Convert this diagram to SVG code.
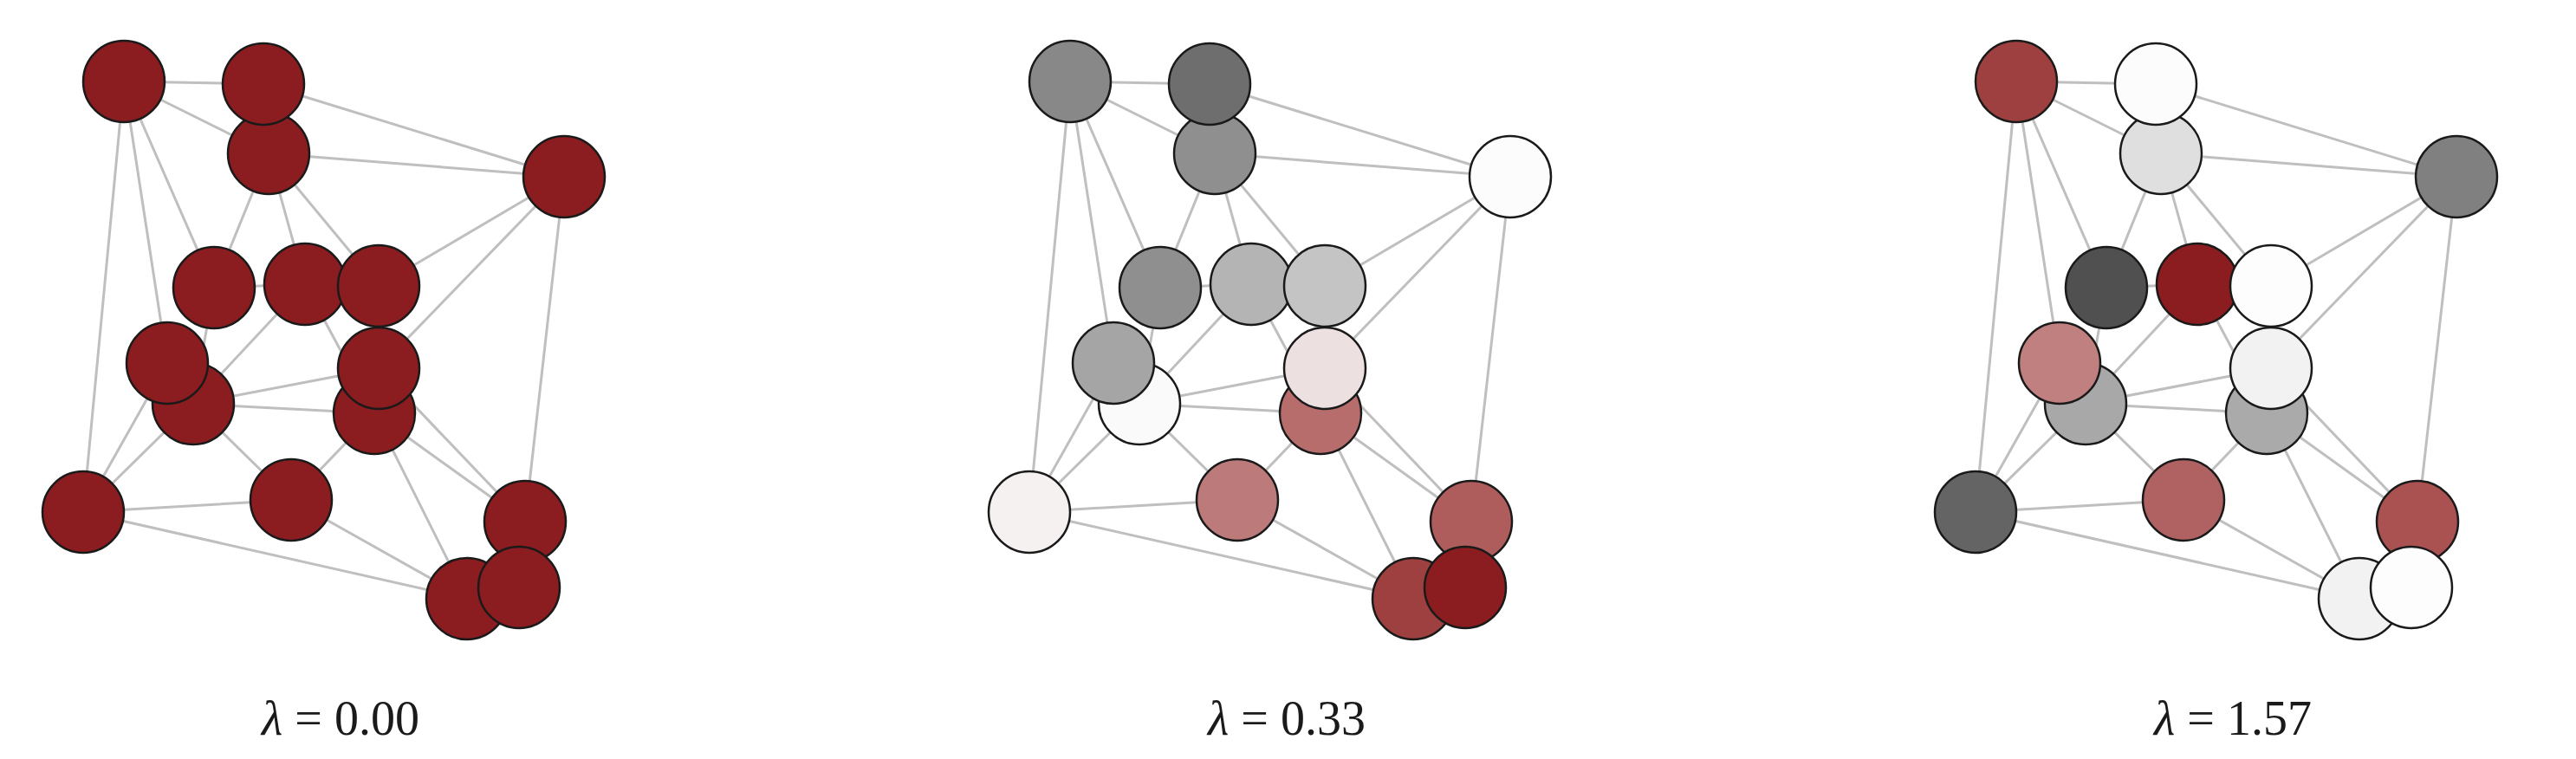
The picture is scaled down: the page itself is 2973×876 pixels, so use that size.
<svg xmlns="http://www.w3.org/2000/svg" xmlns:xlink="http://www.w3.org/1999/xlink" width="2973" height="876" viewBox="0 0 2973 876">
<style>
.e{stroke:#bfbfbf;stroke-width:3;fill:none}
.n{stroke:#1a1a1a;stroke-width:2.5}
.t{font-family:"Liberation Serif",serif;font-size:56px;fill:#1a1a1a;text-anchor:middle}
</style>
<defs>
<g id="edges" class="e">
<path d="M143,94L304,97M143,94L310,177M304,97L651,204M310,177L651,204M143,94L96,591M143,94L193,419M143,94L247,332M310,177L247,332M310,177L352,328M310,177L437,330M651,204L437,330M651,204L437,425M651,204L606,602M247,332L352,328M247,332L223,466M352,328L223,466M352,328L432,477M223,466L437,425M223,466L432,477M223,466L96,591M193,419L96,591M223,466L336,577M432,477L336,577M96,591L336,577M96,591L539,691M336,577L539,691M432,477L539,691M432,477L606,602M437,425L606,602"/>
</g>
</defs>
<g id="connectors">
<use xlink:href="#edges"/>
<use xlink:href="#edges" transform="translate(1092,0)"/>
<use xlink:href="#edges" transform="translate(2184,0)"/>
</g>
<g id="panel1" class="n" fill="#8b1c1f">
<circle id="p1A" cx="143" cy="94" r="47"/><circle id="p1C" cx="310" cy="177" r="47"/><circle id="p1B" cx="304" cy="97" r="47"/><circle id="p1D" cx="651" cy="204" r="47"/><circle id="p1E" cx="247" cy="332" r="47"/><circle id="p1F" cx="352" cy="328" r="47"/><circle id="p1G" cx="437" cy="330" r="47"/><circle id="p1I" cx="223" cy="466" r="47"/><circle id="p1H" cx="193" cy="419" r="47"/><circle id="p1K" cx="432" cy="477" r="47"/><circle id="p1J" cx="437" cy="425" r="47"/><circle id="p1L" cx="96" cy="591" r="47"/><circle id="p1M" cx="336" cy="577" r="47"/><circle id="p1N" cx="606" cy="602" r="47"/><circle id="p1O" cx="539" cy="691" r="47"/><circle id="p1P" cx="599" cy="678" r="47"/>
</g>
<g id="panel2" class="n" transform="translate(1092,0)">
<circle id="p2A" cx="143" cy="94" r="47" fill="#888"/><circle id="p2C" cx="310" cy="177" r="47" fill="#8f8f8f"/><circle id="p2B" cx="304" cy="97" r="47" fill="#6e6e6e"/><circle id="p2D" cx="651" cy="204" r="47" fill="#fdfcfc"/><circle id="p2E" cx="247" cy="332" r="47" fill="#8f8f8f"/><circle id="p2F" cx="352" cy="328" r="47" fill="#b4b4b4"/><circle id="p2G" cx="437" cy="330" r="47" fill="#c4c4c4"/><circle id="p2I" cx="223" cy="466" r="47" fill="#fafafa"/><circle id="p2H" cx="193" cy="419" r="47" fill="#a5a5a5"/><circle id="p2K" cx="432" cy="477" r="47" fill="#b86d6d"/><circle id="p2J" cx="437" cy="425" r="47" fill="#ede0e0"/><circle id="p2L" cx="96" cy="591" r="47" fill="#f6f1f1"/><circle id="p2M" cx="336" cy="577" r="47" fill="#bd7a7a"/><circle id="p2N" cx="606" cy="602" r="47" fill="#ae5c5c"/><circle id="p2O" cx="539" cy="691" r="47" fill="#9f4040"/><circle id="p2P" cx="599" cy="678" r="47" fill="#8b1c1f"/>
</g>
<g id="panel3" class="n" transform="translate(2184,0)">
<circle id="p3A" cx="143" cy="94" r="47" fill="#9f4040"/><circle id="p3C" cx="310" cy="177" r="47" fill="#dfdfdf"/><circle id="p3B" cx="304" cy="97" r="47" fill="#fdfcfd"/><circle id="p3D" cx="651" cy="204" r="47" fill="#808080"/><circle id="p3E" cx="247" cy="332" r="47" fill="#505050"/><circle id="p3F" cx="352" cy="328" r="47" fill="#8b1c1f"/><circle id="p3G" cx="437" cy="330" r="47" fill="#fdfdfd"/><circle id="p3I" cx="223" cy="466" r="47" fill="#a8a8a8"/><circle id="p3H" cx="193" cy="419" r="47" fill="#c08080"/><circle id="p3K" cx="432" cy="477" r="47" fill="#aaaaaa"/><circle id="p3J" cx="437" cy="425" r="47" fill="#f2f2f2"/><circle id="p3L" cx="96" cy="591" r="47" fill="#646464"/><circle id="p3M" cx="336" cy="577" r="47" fill="#b06262"/><circle id="p3N" cx="606" cy="602" r="47" fill="#aa5252"/><circle id="p3O" cx="539" cy="691" r="47" fill="#f2f2f2"/><circle id="p3P" cx="599" cy="678" r="47" fill="#fdfdfd"/>
</g>
<g id="labels">
<text class="t" x="393" y="848"><tspan font-style="italic">λ</tspan> = 0.00</text>
<text class="t" x="1485" y="848"><tspan font-style="italic">λ</tspan> = 0.33</text>
<text class="t" x="2577" y="848"><tspan font-style="italic">λ</tspan> = 1.57</text>
</g>
</svg>
